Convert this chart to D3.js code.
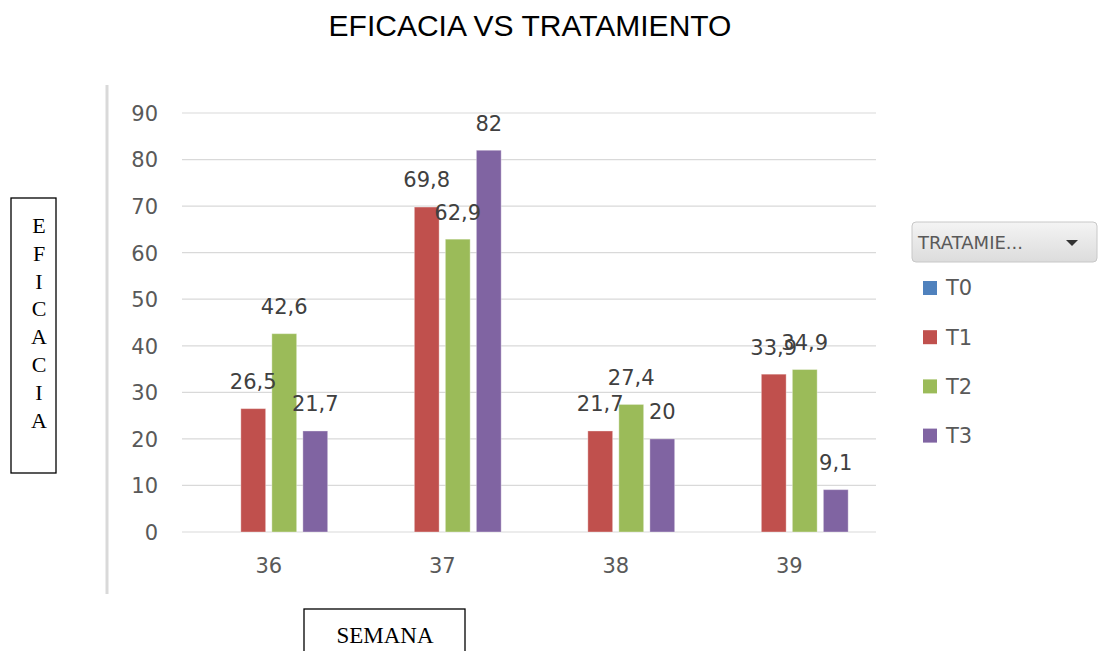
<!DOCTYPE html>
<html><head><meta charset="utf-8">
<script src="https://d3js.org/d3.v7.min.js"></script>
<style>body{margin:0;background:#fff}svg{display:block}</style>
</head><body>
<script>
const categories = ["36","37","38","39"];
const seriesNames = ["T0","T1","T2","T3"];
const T0 = [null,null,null,null];
const T1 = [26.5,69.8,21.7,33.9];
const T2 = [42.6,62.9,27.4,34.9];
const T3 = [21.7,82,20,9.1];
const yTicks = [0,10,20,30,40,50,60,70,80,90];
const colors = ["#4f81bd","#c0504d","#9bbb59","#8064a2"];
const seriesVals = [T0,T1,T2,T3];

const W=1106,H=651;
const svg=d3.select("body").append("svg").attr("width",W).attr("height",H);
const numFont="'DejaVu Sans', sans-serif";
const grey="#595959";

// title
svg.append("text").attr("x",530).attr("y",36).attr("text-anchor","middle")
  .attr("font-family","'Liberation Sans', Arial, sans-serif").attr("font-size",30).attr("fill","#000")
  .text("EFICACIA VS TRATAMIENTO");

// left separator line
svg.append("line").attr("x1",107).attr("x2",107).attr("y1",85).attr("y2",594)
  .attr("stroke","#d9d9d9").attr("stroke-width",3);

const x0=d3.scaleBand().domain(categories).range([182,876]).paddingInner(0.285).paddingOuter(0.1425);
const x1=d3.scaleBand().domain(seriesNames).range([0,x0.bandwidth()]).paddingInner(0.2).paddingOuter(0.1);
const y=d3.scaleLinear().domain([0,90]).range([532,113]);

// gridlines
svg.append("g").selectAll("line").data(yTicks).join("line")
  .attr("x1",182).attr("x2",876).attr("y1",d=>y(d)).attr("y2",d=>y(d))
  .attr("stroke","#d9d9d9").attr("stroke-width",1.2);

// y axis labels
const yAxis=d3.axisLeft(y).tickValues(yTicks).tickSize(0).tickPadding(0);
const gy=svg.append("g").attr("transform","translate(158,0)").call(yAxis);
gy.select(".domain").remove();
gy.selectAll("text").attr("font-family",numFont).attr("font-size",21).attr("fill",grey).attr("dy","0.35em");

// x axis labels
const xAxis=d3.axisBottom(x0).tickSize(0).tickPadding(0);
const gx=svg.append("g").attr("transform","translate(0,566)").call(xAxis);
gx.select(".domain").remove();
gx.selectAll("text").attr("font-family",numFont).attr("font-size",21).attr("fill",grey).attr("dy","0.35em");

// bars
const flat=[];
categories.forEach((c,i)=>seriesNames.forEach((s,j)=>{
  const v=seriesVals[j][i];
  if(v!=null) flat.push({c,s,v,j});
}));
svg.append("g").selectAll("rect").data(flat).join("rect")
  .attr("x",d=>x0(d.c)+x1(d.s)).attr("width",x1.bandwidth())
  .attr("y",d=>y(d.v)).attr("height",d=>y(0)-y(d.v))
  .attr("fill",d=>colors[d.j]).attr("stroke","#ffffff").attr("stroke-opacity",0.35).attr("stroke-width",1);

// data labels
const fmt=v=>String(v).replace(".",",");
svg.append("g").selectAll("text").data(flat).join("text")
  .attr("x",d=>x0(d.c)+x1(d.s)+x1.bandwidth()/2).attr("y",d=>y(d.v)-27)
  .attr("dy","0.35em").attr("text-anchor","middle")
  .attr("font-family",numFont).attr("font-size",21).attr("fill","#404040")
  .text(d=>fmt(d.v));

// Y label box
svg.append("rect").attr("x",11).attr("y",198).attr("width",45).attr("height",275)
  .attr("fill","none").attr("stroke","#000").attr("stroke-width",1.3);
const ylab="EFICACIA".split("");
svg.append("g").selectAll("text").data(ylab).join("text")
  .attr("x",39).attr("y",(d,i)=>225+i*27.9).attr("dy","0.35em").attr("text-anchor","middle")
  .attr("font-family","'Liberation Serif', 'Times New Roman', serif").attr("font-size",22).attr("fill","#000")
  .text(d=>d);

// X label box
svg.append("rect").attr("x",304).attr("y",609).attr("width",161).attr("height",60)
  .attr("fill","none").attr("stroke","#000").attr("stroke-width",1.3);
svg.append("text").attr("x",385).attr("y",643).attr("text-anchor","middle")
  .attr("font-family","'Liberation Serif', 'Times New Roman', serif").attr("font-size",23).attr("fill","#000")
  .text("SEMANA");

// legend
const defs=svg.append("defs");
const grad=defs.append("linearGradient").attr("id","lg").attr("x1",0).attr("x2",0).attr("y1",0).attr("y2",1);
grad.append("stop").attr("offset","0%").attr("stop-color","#f4f4f4");
grad.append("stop").attr("offset","100%").attr("stop-color","#dcdcdc");
svg.append("rect").attr("x",912).attr("y",222).attr("width",185).attr("height",40).attr("rx",4)
  .attr("fill","url(#lg)").attr("stroke","#c8c8c8");
svg.append("text").attr("x",918).attr("y",243).attr("dy","0.35em")
  .attr("font-family",numFont).attr("font-size",18).attr("fill",grey).text("TRATAMIE...");
svg.append("path").attr("d","M1066,240 L1078,240 L1072,246 Z").attr("fill","#333");
const lg=svg.append("g").selectAll("g").data(seriesNames).join("g")
  .attr("transform",(d,i)=>`translate(923,${288+i*49.2})`);
lg.append("rect").attr("x",0).attr("y",-7).attr("width",14).attr("height",14).attr("fill",(d,i)=>colors[i]);
lg.append("text").attr("x",23).attr("y",0).attr("dy","0.35em")
  .attr("font-family",numFont).attr("font-size",21).attr("fill",grey).text(d=>d);
</script>
</body></html>
